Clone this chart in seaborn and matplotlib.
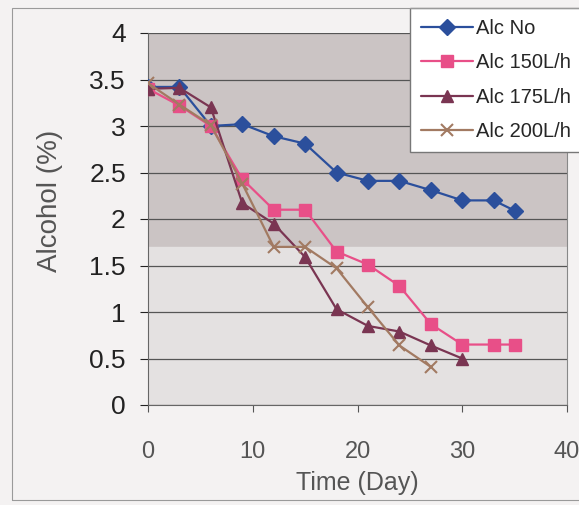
import matplotlib
matplotlib.use("Agg")
import matplotlib.pyplot as plt
import seaborn as sns
import pandas as pd
from matplotlib.patches import Rectangle

days_no = [0, 3, 6, 9, 12, 15, 18, 21, 24, 27, 30, 33, 35]
alc_no = [3.42, 3.42, 3.0, 3.02, 2.89, 2.81, 2.5, 2.41, 2.41, 2.31, 2.2, 2.2, 2.09]
days_150 = [0, 3, 6, 9, 12, 15, 18, 21, 24, 27, 30, 33, 35]
alc_150 = [3.4, 3.22, 3.0, 2.43, 2.1, 2.1, 1.65, 1.51, 1.28, 0.87, 0.65, 0.65, 0.65]
days_175 = [0, 3, 6, 9, 12, 15, 18, 21, 24, 27, 30]
alc_175 = [3.4, 3.41, 3.2, 2.17, 1.95, 1.59, 1.03, 0.85, 0.79, 0.64, 0.5]
days_200 = [0, 3, 6, 9, 12, 15, 18, 21, 24, 27]
alc_200 = [3.46, 3.23, 3.01, 2.38, 1.7, 1.7, 1.47, 1.05, 0.64, 0.41]

series_names = ["Alc No", "Alc 150L/h", "Alc 175L/h", "Alc 200L/h"]
y_ticks = [0, 0.5, 1, 1.5, 2, 2.5, 3, 3.5, 4]
y_tick_labels = ["0", "0.5", "1", "1.5", "2", "2.5", "3", "3.5", "4"]
x_ticks = [0, 10, 20, 30, 40]

df = pd.concat([
    pd.DataFrame({"Day": days_no, "Alcohol": alc_no, "Series": series_names[0]}),
    pd.DataFrame({"Day": days_150, "Alcohol": alc_150, "Series": series_names[1]}),
    pd.DataFrame({"Day": days_175, "Alcohol": alc_175, "Series": series_names[2]}),
    pd.DataFrame({"Day": days_200, "Alcohol": alc_200, "Series": series_names[3]}),
])

sns.set_style("white")
plt.rcParams["font.family"] = ["Liberation Sans", "DejaVu Sans"]

colors = {"Alc No": "#2b4f9c", "Alc 150L/h": "#e84f88",
          "Alc 175L/h": "#7a3552", "Alc 200L/h": "#a27a62"}
markers = {"Alc No": "D", "Alc 150L/h": "s", "Alc 175L/h": "^", "Alc 200L/h": "x"}

fig = plt.figure(figsize=(5.79, 5.05), dpi=100)
fig.patch.set_facecolor("#f4f2f2")
fig.patches.append(Rectangle((12/579, 1-500/505), 575/579, 492/505, transform=fig.transFigure,
                             fill=False, edgecolor="#9a9a9a", linewidth=0.8))
ax = fig.add_axes([148/579, 1-405/505, 419/579, 372/505])
ax.set_facecolor("#cbc4c4")
ax.axhspan(0, 1.7, color="#e4e1e1", zorder=0)

for name in series_names:
    sub = df[df["Series"] == name]
    sns.lineplot(data=sub, x="Day", y="Alcohol", ax=ax, color=colors[name],
                 marker=markers[name], markersize=9 if markers[name] != "D" else 8,
                 markeredgecolor=colors[name], markeredgewidth=1.5 if markers[name] == "x" else 1,
                 linewidth=1.6, label=name, zorder=3)

ax.set_xlim(0, 40)
ax.set_ylim(0, 4)
ax.set_yticks(y_ticks)
ax.set_yticklabels(y_tick_labels)
ax.set_xticks(x_ticks)
ax.yaxis.grid(True, color="#555555", linewidth=0.9)
ax.xaxis.grid(False)
ax.spines["top"].set_visible(False)
ax.spines["right"].set_color("#888888")
ax.spines["left"].set_color("#666666")
ax.spines["bottom"].set_color("#666666")
ax.tick_params(axis="y", labelsize=19, colors="#222222", length=6, direction="out", left=True, pad=10)
ax.tick_params(axis="x", labelsize=17, colors="#555555", length=5, direction="out", bottom=True, pad=21)
ax.set_xlabel("Time (Day)", fontsize=18, color="#555555", labelpad=6)
ax.set_ylabel("Alcohol (%)", fontsize=20, color="#555555")
ax.yaxis.set_label_coords(-0.203, 0.548)

leg = ax.legend(loc="upper left", bbox_to_anchor=(410/579, 1-8/505), bbox_transform=fig.transFigure,
                borderaxespad=0, fontsize=14.5, frameon=True, fancybox=False, edgecolor="#777777",
                handlelength=2.6, labelspacing=0.76, borderpad=0.55, handletextpad=0.12)
leg.get_frame().set_facecolor("white")
leg.get_frame().set_alpha(1)

fig.savefig("out.png", dpi=100, facecolor=fig.get_facecolor())
